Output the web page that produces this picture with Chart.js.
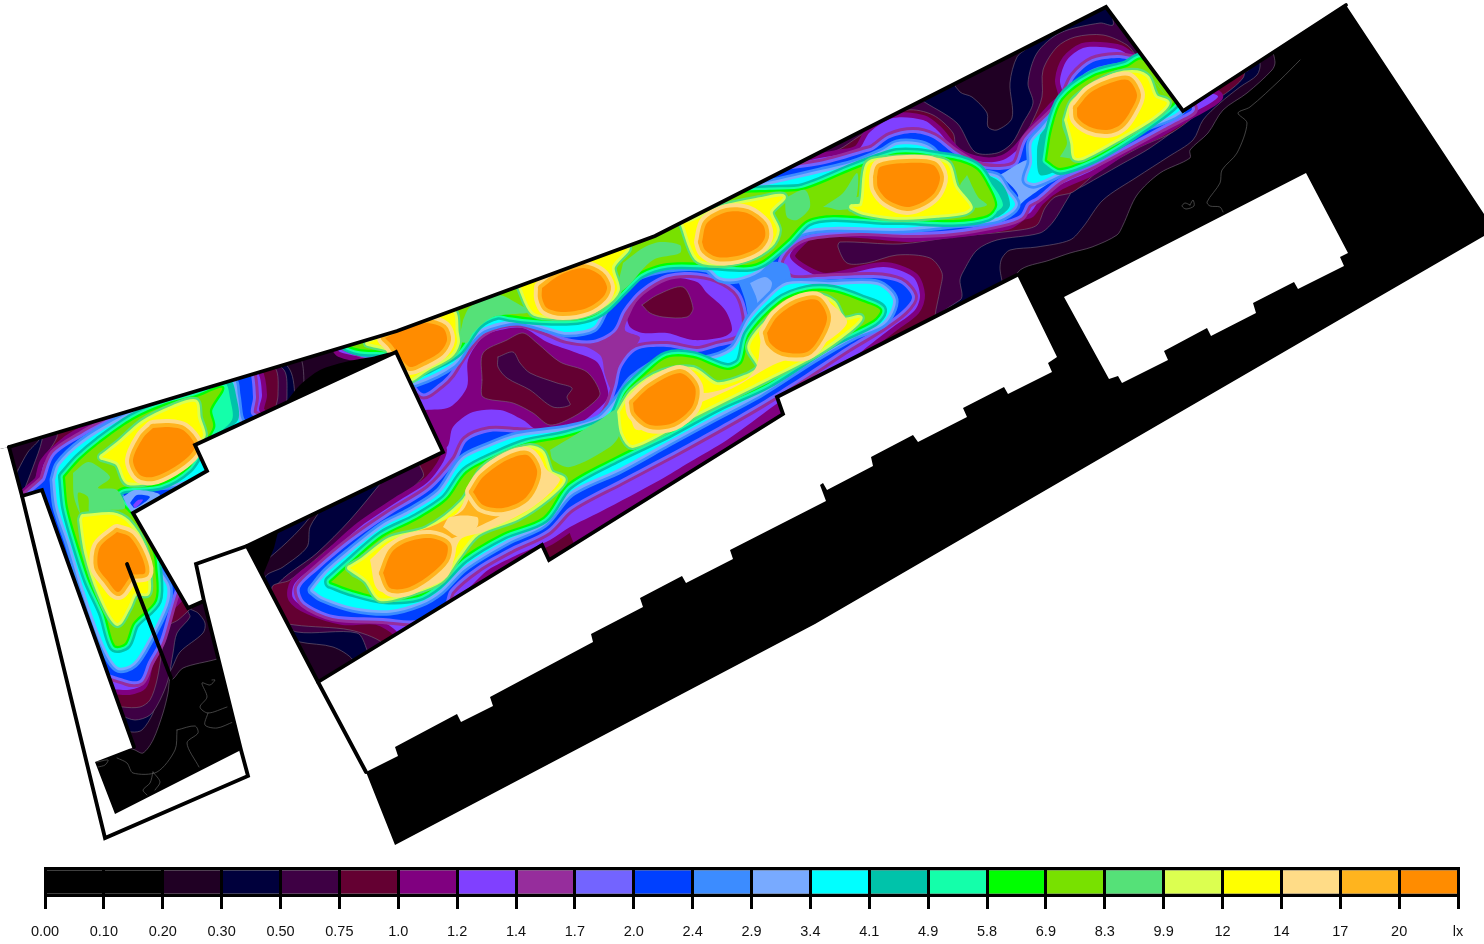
<!DOCTYPE html>
<html><head><meta charset="utf-8">
<script src="https://cdn.jsdelivr.net/npm/chart.js@4"></script>
<style>html,body{margin:0;padding:0;background:#fff;overflow:hidden}canvas{position:absolute;left:0;display:block}</style>
</head><body>
<canvas id="plan" width="1484" height="850" style="top:0"></canvas>
<canvas id="scale" width="1484" height="94" style="top:850px"></canvas>
<script>
// Colour scale
const tickLabels=["0.00","0.10","0.20","0.30","0.50","0.75","1.0","1.2","1.4","1.7","2.0","2.4","2.9","3.4","4.1","4.9","5.8","6.9","8.3","9.9","12","14","17","20","lx"];
const bandColors=["#000000","#000000","#200024","#00003c","#3e0044","#640032","#800080","#8040ff","#962d9c","#7364ff","#0040ff","#3c8cff","#78aaff","#00ffff","#00c3aa","#14ffaa","#00ff00","#78e100","#55e178","#dcff50","#ffff00","#ffdc87","#ffb41e","#ff8c00"];
const bandSpan=[1,1,1,1,1,1,1,1,1,1,1,1,1,1,1,1,1,1,1,1,1,1,1,1];

// Plan outlines (plan units)
const floor=[[0,0],[1484,0],[1484,850],[0,850]];
const maskTop=[[0,0],[1484,0],[1484,214],[1346,5],[1183,111],[1106,7],[655,236],[397,331],[9,447],[0,449]];
const maskLow=[[0,449],[9,447],[22,496],[42,490],[134,747],[95,762],[115,814],[241,750],[204,601],[188,608],[133,513],[207,471],[195,445],[396,352],[443,452],[247,546],[318,682],[542,545],[549,560],[783,414],[777,397],[1017,275],[1057,357],[1048,363],[1052,372],[1008,394],[1004,387],[963,408],[967,417],[918,442],[913,435],[871,457],[873,466],[827,490],[823,483],[820,485],[826,501],[730,550],[733,559],[686,583],[682,576],[640,598],[643,607],[591,634],[593,642],[490,697],[493,706],[461,722],[457,714],[395,747],[398,756],[366,772],[395,845],[815,624],[1370,302],[1484,236],[1484,850],[0,850]];
const buildingEast=[[1064,297],[1306,173],[1348,253],[1340,257],[1344,266],[1298,289],[1294,282],[1253,303],[1256,313],[1211,336],[1207,328],[1164,351],[1168,360],[1122,383],[1118,376],[1109,379]];
const wallTop=[[9,447],[397,331],[655,236],[1106,7],[1183,111],[1346,5]];
const wallWing=[[9,447],[22,496],[105,838],[248,776],[241,750],[204,601],[188,608],[133,513],[207,471],[195,445],[396,352],[443,452],[247,546],[196,564],[204,601]];
const wallInner=[[22,496],[42,490],[134,747]];
const wallStub=[[127,564],[171,678]];
const wallStrip=[[247,546],[318,682],[366,772]];
const wallSouth=[[318,682],[542,545],[549,560],[783,414],[777,397],[1017,275]];

// Isolux contours: main hall
const main02=[[300,330],[655,225],[1106,0],[1270,50],[1275,62],[1272,70],[1247,93],[1223,110],[1208,133],[1190,150],[1190,158],[1160,173],[1137,195],[1123,225],[1117,235],[1092,247],[1070,253],[1050,260],[1018,272],[1000,320],[330,720],[300,690],[240,530]];
const main03=[[323,490],[323,505],[310,527],[307,547],[283,567],[265,578],[285,635],[300,642],[333,647],[353,660],[358,680],[1000,300],[1000,267],[1002,258],[1010,250],[1037,247],[1070,240],[1083,227],[1103,200],[1137,177],[1168,157],[1193,140],[1203,120],[1220,103],[1240,87],[1257,75],[1260,63],[1250,40],[1106,0],[655,225]];
const pocket02=[[945,70],[960,92],[972,97],[987,113],[988,127],[997,130],[1012,118],[1010,83],[1017,57],[1030,45],[1030,30],[1000,30]];
const main05=[[385,478],[350,520],[317,553],[275,588],[280,620],[297,632],[357,633],[367,650],[372,670],[960,300],[960,280],[963,272],[977,250],[997,240],[1040,233],[1053,222],[1068,198],[1072,192],[1085,185],[1120,165],[1150,148],[1195,115],[1220,95],[1240,75],[1250,68],[1245,40],[1113,10],[1113,25],[1100,23],[1060,33],[1037,53],[1028,83],[1033,103],[1023,123],[1012,143],[997,153],[975,152],[957,123],[920,99],[905,85],[655,215],[400,300],[420,420]];
const main075=[[418,462],[423,477],[383,510],[333,545],[290,580],[272,587],[280,620],[295,625],[350,630],[383,643],[390,660],[790,430],[935,335],[935,316],[940,290],[942,273],[930,258],[897,255],[867,263],[847,263],[838,247],[840,242],[900,244],[953,237],[1020,230],[1037,225],[1045,208],[1055,197],[1073,192],[1100,170],[1140,147],[1173,132],[1205,108],[1243,78],[1240,60],[1138,45],[1138,57],[1127,45],[1103,35],[1075,37],[1057,47],[1043,70],[1042,97],[1033,120],[1020,143],[1000,158],[977,160],[957,150],[953,133],[933,115],[907,110],[880,123],[858,137],[838,150],[820,155],[800,145],[650,215],[400,310],[415,440]];
const notch05=[[522,563],[530,555],[543,552],[549,560],[520,578]];
const purpleSouth=[[460,597],[472,585],[488,570],[515,556],[550,537],[570,517],[560,530],[540,542],[503,553],[493,567],[497,580],[480,592]];
const purpleNotch=[[575,547],[690,476],[785,418],[780,400],[760,412],[727,440],[690,462],[600,512],[570,527]];
const main12=[[335,345],[340,325],[655,220],[770,150],[780,165],[820,158],[837,155],[858,150],[870,132],[893,118],[923,120],[937,130],[958,153],[983,162],[1003,160],[1017,150],[1033,130],[1053,107],[1063,97],[1060,80],[1067,60],[1083,48],[1100,47],[1120,50],[1138,60],[1150,40],[1205,90],[1218,97],[1187,116],[1160,132],[1127,148],[1093,170],[1060,185],[1040,200],[1030,213],[1023,215],[1007,225],[953,233],[907,237],[860,233],[813,233],[797,245],[790,257],[805,270],[827,278],[883,267],[913,277],[920,295],[915,310],[893,327],[867,347],[857,355],[800,388],[775,405],[727,440],[690,462],[660,480],[600,512],[570,527],[550,540],[515,556],[488,570],[472,585],[460,597],[440,630],[398,650],[398,633],[377,620],[343,620],[310,610],[293,598],[295,583],[323,560],[360,527],[400,500],[430,480],[447,450],[430,425],[400,380],[396,356],[365,357],[340,352]];
const basinWest=[[425,410],[450,407],[467,387],[468,360],[483,337],[500,330],[523,328],[547,342],[577,353],[597,362],[605,380],[608,397],[597,410],[573,427],[538,430],[523,420],[500,410],[473,412],[453,427],[447,447],[420,460]];
const basinWest075=[[482,380],[483,353],[507,340],[523,333],[537,343],[560,362],[587,372],[600,393],[593,403],[573,417],[550,425],[533,413],[513,403],[483,397]];
const basinWest05=[[498,357],[513,352],[520,363],[530,373],[557,383],[572,388],[567,397],[570,405],[553,407],[530,390],[507,378],[498,367]];
const basinMid=[[635,300],[627,313],[630,327],[643,333],[667,333],[693,340],[723,337],[732,330],[725,310],[707,293],[697,282],[667,278],[647,290]];
const basinMid075=[[642,305],[657,295],[683,287],[693,308],[687,317],[663,317],[650,313]];
const bridge14=[[570,340],[595,345],[613,333],[625,310],[640,295],[632,310],[625,330],[640,338],[620,365],[612,390],[605,375],[600,355]];
const main20=[[345,345],[340,330],[655,225],[745,178],[820,165],[840,160],[863,153],[873,150],[890,138],[913,133],[933,138],[953,153],[977,167],[1000,170],[1017,165],[1027,140],[1057,110],[1067,93],[1075,77],[1093,62],[1117,58],[1140,60],[1150,45],[1185,98],[1192,109],[1183,115],[1160,127],[1127,145],[1093,163],[1060,178],[1037,197],[1027,203],[1020,215],[1000,222],[953,230],[907,232],[860,230],[807,235],[787,247],[778,263],[790,280],[817,280],[873,278],[900,283],[912,297],[903,310],[880,327],[847,347],[800,378],[760,403],[713,430],[673,452],[620,480],[570,507],[547,530],[510,548],[477,567],[450,590],[443,608],[417,620],[383,618],[333,615],[305,602],[300,588],[318,570],[350,543],[390,515],[430,490],[457,460],[467,441],[490,432],[517,433],[553,435],[590,428],[607,413],[617,387],[622,367],[637,350],[667,347],[697,352],[717,347],[740,340],[748,323],[740,293],[717,277],[690,272],[665,275],[640,290],[623,310],[613,330],[593,340],[567,338],[547,330],[523,322],[500,323],[477,335],[460,357],[450,373],[440,383],[422,393],[396,354],[375,356]];
const neck24=[[735,273],[770,262],[787,265],[790,285],[770,300],[760,320],[752,335],[745,300]];
const neck29=[[750,283],[765,277],[772,283],[767,297],[761,308],[757,315],[757,300]];
const gap29=[[1000,175],[1030,160],[1035,185],[1055,178],[1025,200],[1012,212],[1018,195]];
const top34=[[345,343],[365,352],[396,352],[408,378],[415,382],[453,363],[467,343],[483,328],[517,320],[550,328],[567,332],[593,327],[603,310],[613,292],[633,277],[667,267],[707,267],[720,277],[737,278],[758,270],[770,257],[800,232],[833,227],[900,228],[953,223],[997,218],[1015,205],[1005,190],[997,178],[973,173],[942,162],[930,150],[917,145],[897,145],[883,153],[853,165],[820,173],[767,185],[740,190],[655,228],[397,325]];
const low34=[[313,590],[327,573],[350,553],[383,527],[410,513],[440,493],[463,460],[487,448],[517,437],[567,430],[600,420],[620,398],[633,380],[663,362],[700,362],[733,350],[750,320],[765,303],[787,285],[830,285],[877,285],[893,300],[883,322],[853,335],[813,358],[760,392],[713,417],[667,442],[620,468],[570,492],[543,523],[507,540],[463,567],[440,590],[420,602],[390,610],[353,607],[323,597]];
const east34=[[1145,65],[1120,68],[1100,72],[1085,80],[1077,93],[1060,110],[1043,130],[1032,143],[1032,163],[1027,180],[1035,183],[1060,172],[1100,150],[1140,128],[1178,112],[1183,95],[1160,50]];
const top69=[[345,335],[345,343],[360,349],[396,352],[410,372],[437,362],[457,350],[477,323],[497,313],[510,315],[537,318],[577,318],[600,310],[623,288],[640,272],[667,263],[707,263],[747,265],[763,260],[787,240],[807,220],[833,215],[883,218],[903,218],[953,220],[987,215],[995,205],[988,187],[977,170],[960,162],[937,158],[917,155],[897,155],[880,160],[853,170],[803,190],[770,192],[733,195],[655,228],[397,322]];
const low69=[[331,582],[350,565],[383,537],[417,520],[447,500],[467,473],[497,457],[527,445],[567,437],[613,420],[627,393],[645,375],[667,358],[693,358],[727,370],[742,363],[750,335],[780,303],[807,292],[833,292],[863,302],[880,310],[873,320],[833,340],[767,382],[717,405],[667,432],[617,456],[567,484],[543,517],[503,533],[463,557],[437,583],[417,595],[383,597],[353,590]];
const east69=[[1047,160],[1052,130],[1063,100],[1093,77],[1127,67],[1142,60],[1175,95],[1173,103],[1147,123],[1117,143],[1090,158],[1060,168]];
// Wider 4.1-5.8 lx flanks
const tealEastT=[[962,165],[1000,182],[1010,205],[998,217],[990,215]];
const tealEastW=[[1040,135],[1060,110],[1052,130],[1047,160],[1060,168],[1040,175],[1037,150]];
const tealWing=[[218,388],[231,381],[236,395],[238,420],[215,437],[205,447],[213,427],[210,410]];
const springEastT=[[970,170],[992,185],[1003,205],[993,212]];
const springWing=[[216,388],[226,384],[230,398],[232,420],[212,435],[213,415]];

// Isolux contours: west wing
const wing02=[[5,440],[295,355],[305,400],[320,490],[240,590],[240,650],[217,659],[183,668],[173,679],[170,678],[168,693],[163,713],[153,740],[143,753],[135,750],[125,745],[15,520]];
const wing03=[[18,470],[28,452],[40,438],[40,420],[270,355],[290,370],[295,400],[293,430],[320,500],[230,590],[190,608],[198,613],[205,623],[203,633],[180,652],[172,668],[165,680],[158,693],[153,713],[142,730],[132,732],[100,725],[10,500]];
const wing05=[[23,493],[33,467],[42,440],[42,420],[260,360],[284,370],[287,395],[285,425],[300,480],[220,580],[188,610],[190,617],[177,633],[173,653],[168,680],[160,700],[150,715],[135,720],[120,715],[95,705],[10,500]];
const wing075=[[33,490],[40,465],[57,437],[57,420],[250,365],[275,368],[278,395],[275,420],[300,450],[210,590],[187,612],[178,620],[165,628],[162,650],[157,680],[150,700],[140,707],[123,707],[85,700],[10,510]];
const wing12=[[40,480],[45,462],[68,440],[95,422],[95,400],[245,370],[258,373],[262,395],[260,412],[300,440],[200,560],[178,598],[165,612],[160,640],[148,665],[142,685],[123,690],[85,680],[15,510]];
const wing20=[[45,480],[55,455],[85,435],[117,415],[117,395],[243,370],[250,372],[253,397],[252,415],[290,430],[200,540],[175,590],[160,640],[148,662],[140,680],[127,680],[85,660],[20,510]];
const wing34=[[55,480],[60,465],[83,443],[117,422],[150,407],[231,381],[235,395],[238,417],[245,440],[197,475],[177,483],[125,487],[117,493],[127,508],[147,537],[157,570],[167,587],[165,605],[148,640],[133,663],[118,667],[103,643],[83,587],[70,543],[58,507]];
const wing69=[[65,477],[68,507],[77,540],[90,580],[105,613],[115,645],[125,643],[133,623],[155,600],[155,567],[152,550],[133,517],[120,503],[113,495],[123,487],[160,483],[187,467],[200,447],[213,427],[210,410],[222,388],[197,397],[167,405],[133,420],[100,443],[80,460]];
const wingGreen=[[73,473],[88,462],[103,470],[110,478],[98,488],[117,490],[125,508],[110,510],[90,513],[88,497],[78,493],[80,513],[74,497]];
const pocket29=[[123,497],[135,490],[160,495],[140,510],[133,513],[127,505]];
const pocket20=[[130,503],[137,495],[150,497],[135,508]];
const pocket12=[[133,505],[138,500],[143,500],[135,508]];

// Plateaus of 8.3-9.9 lx
const green1=[[463,320],[470,307],[498,295],[520,305],[530,312],[493,317],[473,333],[467,343],[460,340]];
const green2=[[623,263],[643,248],[660,242],[680,245],[680,253],[653,260],[627,287],[617,293]];
const green3=[[785,198],[805,190],[810,207],[797,220],[787,217]];
const green4=[[827,207],[847,200],[870,195],[865,205],[840,210]];
const green5=[[967,175],[978,197],[987,205],[972,207],[960,187]];
const green6=[[823,207],[843,193],[857,173],[857,195],[850,207]];
const green7=[[1060,157],[1067,143],[1062,123],[1070,110],[1075,157]];
const green8=[[1152,78],[1167,97],[1158,85]];
const green9=[[348,572],[360,567],[370,583],[353,577]];
const green10=[[550,450],[600,420],[617,410],[620,433],[610,447],[570,467],[553,460]];

// Regions of 12 lx and above
const yellowWingN=[[102,457],[120,443],[143,423],[173,408],[195,402],[198,418],[203,435],[197,443],[190,457],[160,477],[128,482],[118,463]];
const yellowWingS=[[83,517],[113,515],[127,522],[143,547],[148,580],[147,593],[135,593],[128,607],[117,623],[100,593],[87,553],[82,520]];
const yellowT1=[[368,343],[400,330],[452,312],[456,333],[457,343],[450,355],[427,368],[405,380],[396,352]];
const yellowT2=[[520,285],[533,312],[553,316],[577,315],[600,307],[617,290],[612,267],[627,248],[600,255],[550,275]];
const yellowT3=[[683,223],[697,258],[717,263],[747,258],[770,245],[777,230],[770,212],[783,197],[760,200],[723,208],[690,222]];
const yellowT4=[[852,207],[862,205],[868,165],[887,160],[933,160],[948,165],[955,187],[970,207],[963,212],[937,215],[897,217],[863,212]];
const yellowE=[[1067,120],[1073,103],[1093,87],[1117,75],[1137,73],[1147,78],[1155,97],[1167,103],[1153,117],[1120,137],[1083,157],[1075,157],[1073,143]];
const yellowL12=[[350,568],[363,560],[390,540],[427,530],[463,503],[483,470],[503,457],[530,448],[542,453],[550,473],[563,480],[547,497],[517,517],[477,533],[457,557],[440,580],[407,593],[380,598],[367,580]];
const yellowL34=[[620,412],[633,392],[663,373],[693,370],[717,385],[747,377],[760,367],[750,347],[763,327],[787,307],[817,297],[833,303],[843,320],[860,318],[848,330],[817,352],[767,378],[727,398],[683,420],[633,445],[623,433]];
const paleL12=[[370,560],[390,542],[427,528],[457,513],[470,487],[483,470],[517,453],[533,450],[547,470],[560,480],[533,507],[483,532],[460,540],[447,577],[407,593],[378,590]];
const amberL12=[[405,535],[430,527],[445,520],[463,510],[475,485],[490,470],[530,450],[540,470],[535,490],[505,513],[475,528],[445,540]];
const paleGap=[[443,527],[450,517],[477,517],[477,527],[460,537]];
const paleL34=[[628,400],[640,387],[670,373],[693,378],[703,393],[745,380],[757,365],[763,333],[787,307],[817,298],[830,303],[847,323],[813,350],[773,365],[733,388],[683,410],[637,430]];

// Regions of 20 lx and above
const coreWingN=[[153,428],[167,427],[183,430],[195,445],[190,455],[173,468],[153,477],[140,475],[133,460],[143,438]];
const coreWingS=[[117,532],[130,537],[142,557],[145,573],[132,575],[128,580],[118,592],[107,580],[98,567],[100,547]];
const coreT1=[[385,338],[410,327],[427,323],[443,328],[447,340],[440,352],[423,362],[410,367],[400,357],[392,345]];
const coreT2=[[542,288],[560,275],[583,268],[600,275],[607,287],[603,297],[587,308],[563,312],[547,308],[542,298]];
const coreT3=[[702,242],[707,223],[727,212],[747,213],[763,225],[765,237],[757,248],[737,256],[717,257],[705,250]];
const coreT4=[[877,177],[880,167],[907,163],[933,165],[940,177],[935,192],[923,202],[907,207],[888,200],[878,188]];
const coreE=[[1077,108],[1090,93],[1110,83],[1128,80],[1137,95],[1130,112],[1120,125],[1107,130],[1090,127],[1078,118]];
const coreL1=[[383,573],[392,552],[407,542],[430,538],[447,545],[445,560],[427,577],[407,588],[390,588]];
const coreL2=[[473,492],[483,477],[507,460],[527,455],[537,470],[533,487],[523,500],[503,508],[483,505]];
const coreL3=[[633,403],[650,387],[680,373],[695,387],[692,407],[673,423],[650,425],[635,413]];
const coreL4=[[767,333],[777,317],[797,303],[817,300],[827,317],[820,337],[807,352],[783,352],[770,343]];

// Unlit patches
const wedge=[[283,407],[290,397],[300,385],[320,370],[345,362],[372,357],[396,353],[396,375],[300,425]];
const cornerSW=[[246,543],[278,532],[274,548],[265,570],[262,578]];

// 0.10 lx lines
const line01a=[[1300,60],[1280,80],[1250,107],[1238,113],[1247,123],[1237,153],[1222,170],[1220,183],[1207,202],[1210,206],[1220,207],[1223,212]];
const line01b=[[1190,205],[1193,200],[1194,206],[1186,209],[1182,206],[1185,203],[1190,205]];
const line01c=[[212,680],[215,680],[210,685],[202,683],[207,697],[200,707],[208,713],[227,707]];
const line01d=[[233,722],[217,728],[205,725],[208,713]];
const line01e=[[177,730],[195,726],[198,733],[187,743],[199,767]];
const line01f=[[177,730],[175,750],[157,772],[133,773],[127,763],[117,758]];
const line01g=[[153,772],[160,782],[155,790]];
const line01h=[[153,772],[150,783],[143,790],[147,795]];
const line01i=[[97,762],[108,760],[105,765],[98,767]];

const C=bandColors, layers=[];
const toXY=p=>p.map(([x,y])=>({x,y}));
const closed=p=>toXY(p.concat([p[0]]));
const base={showLine:true,pointRadius:0,pointHitRadius:0,borderCapStyle:'round',borderJoinStyle:'round'};
function area(p,color,opt={}){layers.push({...base,data:closed(p),fill:'shape',backgroundColor:color,borderWidth:opt.line?0.6:0,borderColor:opt.line||'transparent',tension:opt.tension===undefined?0.3:opt.tension});}
function ring(p,color,offset){layers.push({...base,data:closed(p),fill:false,borderWidth:offset*2,borderColor:color,tension:0.3});}
function path(p,color,width,tension=0){layers.push({...base,data:toXY(p),fill:false,borderWidth:width,borderColor:color,tension,borderJoinStyle:tension?'round':'miter'});}
const grey='#75677a';

area(floor,C[0],{tension:0});
[line01a,line01b,line01c,line01d,line01e,line01f,line01g,line01h,line01i].forEach(l=>path(l,'#5e5e5e',0.7,0.3));
area(main02,C[2],{line:grey}); area(wing02,C[2],{line:grey});
area(main03,C[3],{line:grey}); area(wing03,C[3],{line:grey});
area(pocket02,C[2],{line:grey});
area(main05,C[4],{line:grey}); area(wing05,C[4],{line:grey});
area(main075,C[5],{line:grey}); area(wing075,C[5],{line:grey});
area(notch05,C[4],{line:grey});
area(purpleSouth,C[6]); area(purpleNotch,C[6]);
[main12,wing12].forEach(p=>ring(p,C[6],5));
[main12,wing12].forEach(p=>area(p,C[7]));
area(basinWest,C[6]); area(basinWest075,C[5],{line:grey}); area(basinWest05,C[4],{line:grey});
area(basinMid,C[6]); area(basinMid075,C[5],{line:grey});
area(bridge14,C[8]);
[main20,wing20].forEach(p=>{ring(p,C[8],6);ring(p,C[9],3);});
[main20,wing20].forEach(p=>area(p,C[10]));
area(neck24,C[11]); area(neck29,C[12]); area(gap29,C[12]);
[top34,low34,east34,wing34].forEach(p=>{ring(p,C[11],5.5);ring(p,C[12],2.8);});
[top34,low34,east34,wing34].forEach(p=>area(p,C[13]));
[tealEastT,tealEastW,tealWing].forEach(p=>area(p,C[14]));
[top69,low69,east69,wing69].forEach(p=>{ring(p,C[14],7);ring(p,C[15],4.5);});
[springEastT,springWing].forEach(p=>area(p,C[15]));
[top69,low69,east69,wing69].forEach(p=>ring(p,C[16],2.3));
[top69,low69,east69,wing69].forEach(p=>area(p,C[17]));
area(pocket29,C[12]); area(pocket20,C[10]); area(pocket12,C[7]);
[wingGreen,green1,green2,green3,green4,green5,green6,green7,green8,green9,green10].forEach(p=>area(p,C[18]));
const yellows=[yellowWingN,yellowWingS,yellowT1,yellowT2,yellowT3,yellowT4,yellowE,yellowL12,yellowL34];
yellows.forEach(p=>{ring(p,C[18],5);ring(p,C[19],2.8);});
yellows.forEach(p=>area(p,C[20]));
area(paleL12,C[21]); area(amberL12,C[22]); area(paleGap,C[21]); area(paleL34,C[21]);
const cores=[coreWingN,coreWingS,coreT1,coreT2,coreT3,coreT4,coreE,coreL1,coreL2,coreL3,coreL4];
cores.forEach(p=>{ring(p,C[21],8);ring(p,C[22],4);});
cores.forEach(p=>area(p,C[23]));
area(wedge,C[0]); area(cornerSW,C[0],{tension:0});
area(buildingEast,'#ffffff',{tension:0});
area(maskTop,'#ffffff',{tension:0}); area(maskLow,'#ffffff',{tension:0});
[wallTop,wallWing,wallInner,wallStub,wallStrip,wallSouth].forEach(w=>path(w,'#000000',3.8));

new Chart(document.getElementById('plan'),{
  type:'scatter',
  data:{datasets:layers.slice().reverse()},
  options:{responsive:false,animation:false,events:[],devicePixelRatio:1,
    layout:{padding:0},
    plugins:{legend:{display:false},tooltip:{enabled:false},title:{display:false}},
    scales:{x:{type:'linear',min:0,max:1484,display:false},y:{type:'linear',min:0,max:850,reverse:true,display:false}}}
});

new Chart(document.getElementById('scale'),{
  type:'bar',
  data:{labels:[''],datasets:bandColors.map((c,i)=>({data:[bandSpan[i]],backgroundColor:c,borderColor:'#000',borderWidth:{top:3.5,bottom:3.5,left:0,right:0},borderSkipped:false,inflateAmount:0,barPercentage:1,categoryPercentage:1,stack:'s'}))},
  options:{indexAxis:'y',responsive:false,animation:false,events:[],devicePixelRatio:1,
    layout:{padding:{left:45,right:26,top:17,bottom:0}},
    plugins:{legend:{display:false},tooltip:{enabled:false}},
    scales:{
      x:{type:'linear',stacked:true,min:0,max:24,position:'bottom',
        afterFit(s){s.height=47;},
        border:{display:false},
        grid:{color:'#000',lineWidth:3,z:1,tickColor:'#000',tickWidth:3,tickLength:12,drawOnChartArea:true},
        ticks:{stepSize:1,autoSkip:false,maxRotation:0,padding:14,color:'#111',font:{family:'"Liberation Sans",Arial,sans-serif',size:14.5},callback:(v)=>tickLabels[v]}},
      y:{stacked:true,display:false}
    }}
});
</script>
</body></html>
